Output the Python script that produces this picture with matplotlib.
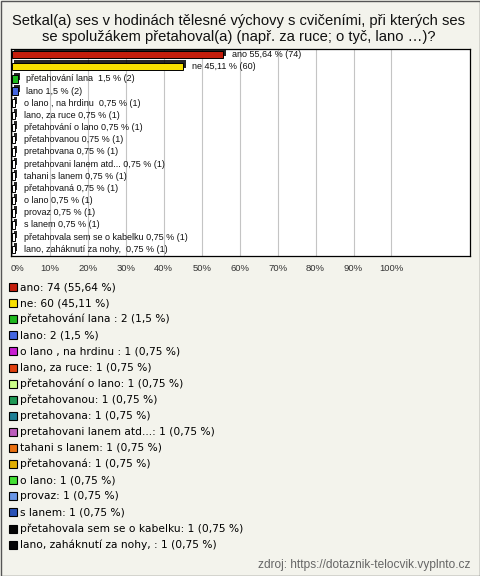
import matplotlib
matplotlib.use("Agg")
import matplotlib.pyplot as plt
import matplotlib.patheffects as pe
import matplotlib.transforms as mtransforms
from matplotlib.patches import Rectangle

# data
categories = [
    "ano", "ne", "přetahování lana ", "lano", "o lano , na hrdinu ",
    "lano, za ruce", "přetahování o lano", "přetahovanou", "pretahovana",
    "pretahovani lanem atd...", "tahani s lanem", "přetahovaná", "o lano",
    "provaz", "s lanem", "přetahovala sem se o kabelku", "lano, zaháknutí za nohy, ",
]
counts = [74, 60, 2, 2, 1, 1, 1, 1, 1, 1, 1, 1, 1, 1, 1, 1, 1]
percents = [55.64, 45.11, 1.5, 1.5, 0.75, 0.75, 0.75, 0.75, 0.75, 0.75,
            0.75, 0.75, 0.75, 0.75, 0.75, 0.75, 0.75]
colors = [
    "#c41e0c", "#f8e000", "#1eb81e", "#4466e0", "#c81ed2", "#e0400e",
    "#ccff88", "#1f9955", "#1f7f96", "#bb5cbb", "#ea7010", "#e0ae00",
    "#44e034", "#6a96e6", "#2a52b6", "#050505", "#050505",
]
tick_vals = list(range(0, 101, 10))
title_lines = [
    "Setkal(a) ses v hodinách tělesné výchovy s cvičeními, při kterých ses",
    "se spolužákem přetahoval(a) (např. za ruce; o tyč, lano …)?",
]
source = "zdroj: https://dotaznik-telocvik.vyplnto.cz"

W, H = 480, 576
BG = "#f3f3ec"


def fmt(p):
    return f"{p:g}".replace(".", ",")


fig = plt.figure(figsize=(W / 100, H / 100), dpi=100, facecolor=BG)

# bar chart
ax = fig.add_axes([11 / W, 1 - 256 / H, 459 / W, 207 / H])
ax.set_facecolor("white")
ypos = list(range(len(categories)))
# the one-vote bars are too thin to show their colour, they render as outlined boxes
bar_faces = [c if p >= 1 else "white" for c, p in zip(colors, percents)]
bars = ax.barh(ypos, percents, height=0.62, color=bar_faces,
               edgecolor="black", linewidth=0.7)
for b in bars:
    b.set_path_effects([
        pe.SimplePatchShadow(offset=(1.8, 1.8), shadow_rgbFace="black", alpha=0.85),
        pe.Normal(),
    ])
for i, (cat, p, n) in enumerate(zip(categories, percents, counts)):
    ax.annotate(f"{cat} {fmt(p)} % ({n})", xy=(p, i), xytext=(6.3, 0),
                textcoords="offset points", va="center", ha="left",
                fontsize=6.5, family="Liberation Sans", color="#111")

ax.set_xlim(-0.26, 120.7)
ax.set_ylim(len(categories) - 0.45, -0.45)
ax.set_xticks(tick_vals)
ax.set_xticklabels([f"{t}%" for t in tick_vals], family="Liberation Sans")
ax.tick_params(axis="x", length=0, pad=6, labelsize=6.8, labelcolor="#333")
ax.set_yticks([])
ax.grid(axis="x", color="#c4c4c4", linewidth=0.8)
ax.set_axisbelow(True)
for s in ax.spines.values():
    s.set_color("black")
    s.set_linewidth(0.9)
first = ax.get_xticklabels()[0]
first.set_transform(first.get_transform()
                    + mtransforms.ScaledTranslation(6 / 100, 0, fig.dpi_scale_trans))

# overlay in pixel coords for title, legend, source and frame
ov = fig.add_axes([0, 0, 1, 1], zorder=-1)
ov.set_xlim(0, W)
ov.set_ylim(H, 0)
ov.axis("off")

ov.text(239, 21, title_lines[0], ha="center", va="center", fontsize=10.6,
        family="Liberation Sans", color="#111")
ov.text(239, 37, title_lines[1], ha="center", va="center", fontsize=10.6,
        family="Liberation Sans", color="#111")

for i, (cat, p, n) in enumerate(zip(categories, percents, counts)):
    yy = 287 + i * 16.1
    ov.add_patch(Rectangle((9, yy - 4), 8, 8, facecolor=colors[i],
                           edgecolor="black", linewidth=0.8))
    ov.text(20, yy, f"{cat}: {n} ({fmt(p)} %)", ha="left", va="center",
            fontsize=7.7, family="DejaVu Sans", color="black")

ov.text(470, 565, source, ha="right", va="center", fontsize=8.6,
        family="Liberation Sans", color="#666")

ov.add_patch(Rectangle((0.5, 0.5), W - 1, H - 1, fill=False,
                       edgecolor="#555", linewidth=1, clip_on=False))

fig.savefig("out.png", dpi=100, facecolor=fig.get_facecolor())
